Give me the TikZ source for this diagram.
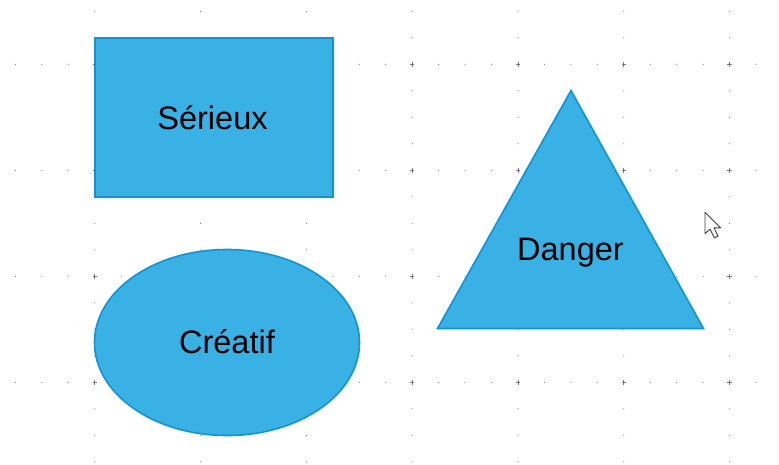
\documentclass[tikz,border=0pt]{standalone}
\usepackage{fontspec}
\setmainfont{Liberation Sans}
\usepackage{tikz}
\usetikzlibrary{positioning,shapes.geometric}
\usepackage{xcolor}
\definecolor{shapeblue}{RGB}{58,177,228}
\definecolor{shapeedge}{RGB}{16,148,212}
\definecolor{griddot}{RGB}{120,120,120}

\begin{document}
\begin{tikzpicture}[x=1pt, y=-1pt, every node/.style={font=\fontsize{32.5}{38}\selectfont}]
      \tikzset{
	  shapefill/.style={fill=shapeblue, draw=shapeedge, line width=1.6pt},
	  box/.style={rectangle, shapefill, inner sep=0pt, minimum width=238pt, minimum height=159pt},
	  oval/.style={ellipse, shapefill, inner sep=0pt, minimum width=265pt, minimum height=186pt},
	  label/.style={anchor=base, text=black, inner sep=0pt},
	  minordot/.style={fill=griddot},
      }
      \useasboundingbox (0,0) rectangle (779,464);

      % dot grid
      \foreach \j in {0,...,3}
	\foreach \i in {0,...,28}
	  \fill[minordot] (15.4+26.45*\i, 64.3+106*\j) circle (0.6pt);
      \foreach \k in {0,...,6}
	\foreach \m in {0,...,17}
	  \fill[minordot] (94.8+105.8*\k, 11.3+26.5*\m) circle (0.6pt);
      \foreach \k in {0,...,6}
	\foreach \j in {0,...,3}
	  \draw[griddot, line width=0.8pt] (92.6+105.8*\k, 64.3+106*\j) -- ++(4.4,0)
	    (94.8+105.8*\k, 62.1+106*\j) -- ++(0,4.4);

      % shapes
      \node (serieux) at (214,117.5) [box] {};
      \node at (212.5,129) [label] {Sérieux};

      \node (creatif) at (227,342.5) [oval] {};
      \node at (227,353.3) [label] {Créatif};

      \coordinate (apex) at (571,90.5);
      \coordinate (right) at (703.5,328.5);
      \coordinate (left) at (437.5,328.5);
      \draw[shapefill, line join=miter] (apex) -- (right) -- (left) -- cycle;
      \node (danger) at (570.5,260.7) [label] {Danger};

      % mouse pointer
      \begin{scope}[shift={(705,212.3)}, scale=1.25]
	\draw[fill=white, draw=black!75, line width=0.9pt, line join=round]
	  (0,0) -- (0,17) -- (4,13.5) -- (7.5,20.5) -- (10.5,19) -- (7.2,12.4) -- (12.4,12.4) -- cycle;
      \end{scope}
    \end{tikzpicture}
\end{document}
